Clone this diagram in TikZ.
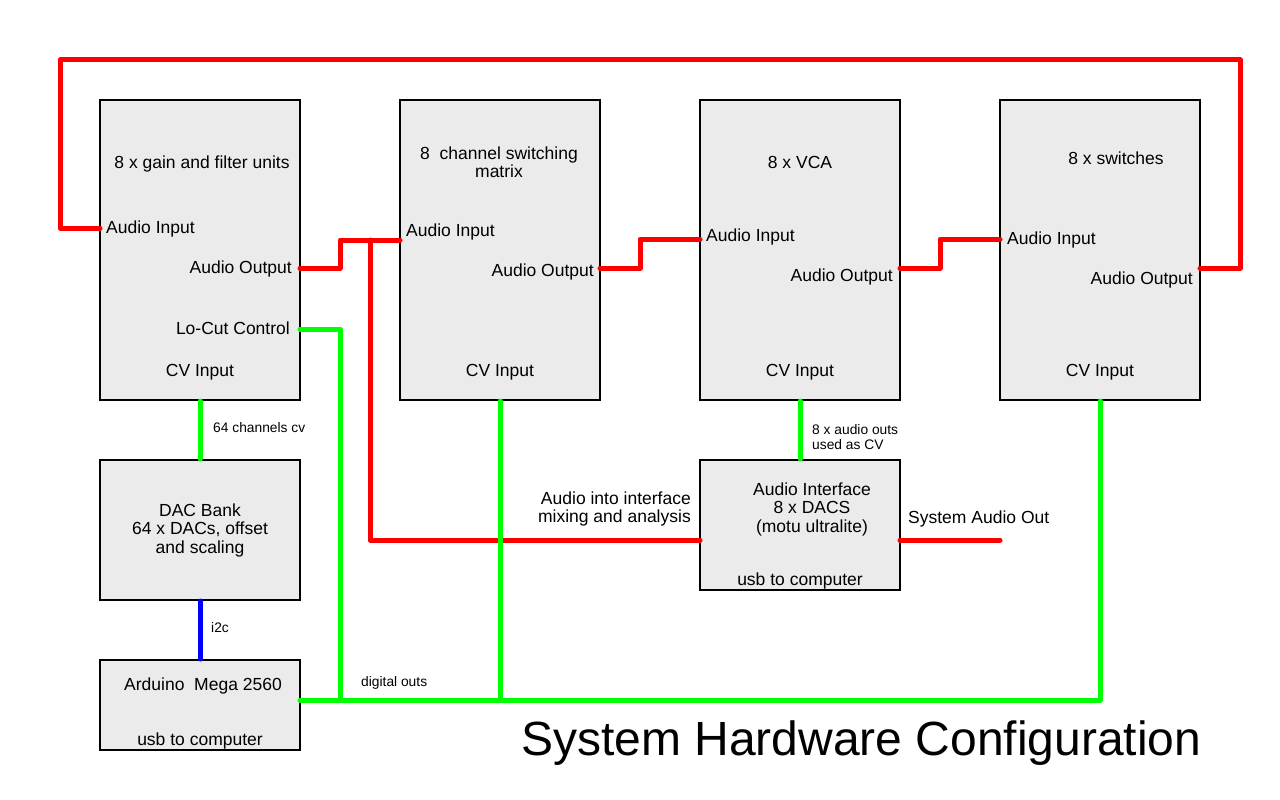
\documentclass[tikz,border=0pt]{standalone}
\usepackage{fontspec}
\setmainfont{Liberation Sans}
\definecolor{boxgray}{HTML}{EBEBEB}
\definecolor{audiored}{HTML}{FF0000}
\definecolor{cvgreen}{HTML}{00FF00}
\definecolor{busblue}{HTML}{0000FF}
\tikzset{
  unit/.style={draw=black, line width=2pt, fill=boxgray, minimum width=200pt, inner sep=0pt},
  lbl/.style={inner sep=0pt, text height=0.72em, text depth=0pt, yshift=-3pt, font=\fontsize{17.5}{18}\selectfont},
  multi/.style={inner sep=0pt, align=center, font=\fontsize{17.5}{18.5}\selectfont},
  small/.style={inner sep=0pt, text height=0.72em, text depth=0pt, yshift=-2pt, font=\fontsize{13.8}{14}\selectfont},
  audio/.style={draw=audiored, line width=5pt, line cap=round, line join=round},
  cv/.style={draw=cvgreen, line width=5pt, line cap=round, line join=round},
  bus/.style={draw=busblue, line width=5pt, line cap=round, line join=round}
}

\begin{document}
\begin{tikzpicture}[x=1pt,y=-1pt]
\useasboundingbox (0,0) rectangle (1280,800);

% blocks
\node[unit, minimum height=300pt] (gain) at (200,250) {};
\node[unit, minimum height=300pt] (matrix) at (500,250) {};
\node[unit, minimum height=300pt] (vca) at (800,250) {};
\node[unit, minimum height=300pt] (switches) at (1100,250) {};
\node[unit, minimum height=140pt] (dacbank) at (200,530) {};
\node[unit, minimum height=90pt] (arduino) at (200,705) {};
\node[unit, minimum height=130pt] (iface) at (800,525) {};

% ports
\coordinate (gainin) at (100,228);
\coordinate (gainout) at (300,268);
\coordinate (gainlocut) at (300,329);
\coordinate (matrixin) at (400,240);
\coordinate (matrixout) at (600,268);
\coordinate (vcain) at (700,239);
\coordinate (vcaout) at (900,268);
\coordinate (switchesin) at (1000,239);
\coordinate (switchesout) at (1200,268);
\coordinate (ifacein) at (700,540);
\coordinate (ifaceout) at (900,540);
\coordinate (arduinoout) at (300,700);
\coordinate (sysout) at (1000,540);
\coordinate (loopl) at (60,60);
\coordinate (loopr) at (1240,60);
\coordinate (tap) at (370,240);
\coordinate (locutdrop) at (340,700);

% texts in blocks
\node[lbl] (gaintitle) at (202,162) {8 x gain and filter units};
\node[lbl, anchor=west] (gaininlbl) at (106,227) {Audio Input};
\node[lbl, anchor=east] (gainoutlbl) at (292,267) {Audio Output};
\node[lbl, anchor=east] (gainlocutlbl) at (290,328) {Lo-Cut Control};
\node[lbl] (gaincv) at (200,370) {CV Input};

\node[multi] (matrixtitle) at (499,162) {8\ \ channel switching\\matrix};
\node[lbl, anchor=west] (matrixinlbl) at (406,230) {Audio Input};
\node[lbl, anchor=east] (matrixoutlbl) at (594,270) {Audio Output};
\node[lbl] (matrixcv) at (500,370) {CV Input};

\node[lbl] (vcatitle) at (800,162) {8 x VCA};
\node[lbl, anchor=west] (vcainlbl) at (706,235) {Audio Input};
\node[lbl, anchor=east] (vcaoutlbl) at (893,275) {Audio Output};
\node[lbl] (vcacv) at (800,370) {CV Input};

\node[lbl] (switchestitle) at (1116,158) {8 x switches};
\node[lbl, anchor=west] (switchesinlbl) at (1007,238) {Audio Input};
\node[lbl, anchor=east] (switchesoutlbl) at (1193,278) {Audio Output};
\node[lbl] (switchescv) at (1100,370) {CV Input};

\node[multi] (dactitle) at (200,530) {DAC Bank\\64 x DACs, offset\\and scaling};
\node[lbl] (arduinotitle) at (203,684) {Arduino\ \ Mega 2560};
\node[lbl] (arduinousb) at (200,739) {usb to computer};
\node[multi] (ifacetitle) at (812,509) {Audio Interface\\8 x DACS\\(motu ultralite)};
\node[lbl] (ifaceusb) at (800,579) {usb to computer};

% connector labels
\node[multi, align=right, anchor=east] (mixlbl) at (691,509) {Audio into interface\\mixing and analysis};
\node[lbl, anchor=west] (syslbl) at (908,517) {System Audio Out};
\node[small, anchor=west] (cvlbl) at (213,427) {64 channels cv};
\node[small, anchor=west] (i2clbl) at (211,627) {i2c};
\node[small, anchor=west] (digilbl) at (361,681) {digital outs};
\node[inner sep=0pt, align=left, anchor=west, font=\fontsize{13.8}{14.5}\selectfont] (ifacecvlbl) at (812,437) {8 x audio outs\\used as CV};

% audio
\draw[audio] (switchesout) -| (loopr) -- (loopl) |- (gainin);
\draw[audio] (gainout) -- ++(40,0) |- (matrixin);
\draw[audio] (matrixout) -- ++(40,0) |- (vcain);
\draw[audio] (vcaout) -- ++(40,0) |- (switchesin);
\draw[audio] (ifacein) -| (tap);
\draw[audio] (ifaceout) -- (sysout);

% cv
\draw[cv] (gain.south) -- (dacbank.north);
\draw[cv] (vca.south) -- (iface.north);
\draw[cv] (gainlocut) -| (locutdrop);
\draw[cv] (arduinoout) -| (switches.south);
\draw[cv] (matrix.south) -- (matrix.south |- arduinoout);

% i2c
\draw[bus] (dacbank.south) -- (arduino.north);

\node[anchor=base west, inner sep=0pt, font=\fontsize{48}{56}\selectfont] (title) at (521,755) {System Hardware Configuration};

\end{tikzpicture}
\end{document}
